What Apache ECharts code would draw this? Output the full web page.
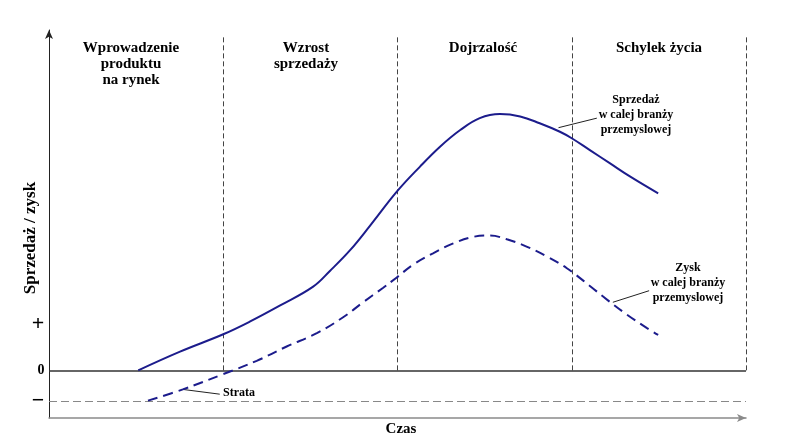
<!DOCTYPE html>
<html>
<head>
<meta charset="utf-8">
<script src="https://cdn.jsdelivr.net/npm/echarts@6/dist/echarts.min.js"></script>
<style>
html,body{margin:0;padding:0;background:#fff;}
#chart{width:786px;height:446px;}
</style>
</head>
<body>
<div id="chart"></div>
<script>
// czas: 0..100, granice faz co 25
var phaseBounds = [25, 50, 75, 100];
var phaseNames = ['Wprowadzenie\nproduktu\nna rynek', 'Wzrost\nsprzedaży', 'Dojrzalość', 'Schylek życia'];

// sprzedaż [czas, wartość]
var salesX = [12.8, 18.8, 25.0, 28.8, 33.1, 37.9, 40.3, 43.2, 46.1, 49.9, 53.2, 56.1, 59.0, 61.8, 64.7, 67.6, 70.4, 73.3, 75.0, 77.6, 80.5, 83.4, 87.4];
var salesY = [0, 5.5, 10.6, 14.3, 19.0, 24.6, 29.2, 35.3, 42.6, 52.5, 59.8, 65.7, 70.6, 74.1, 75.3, 74.6, 72.6, 70.1, 68.2, 64.7, 60.8, 56.9, 52.0];

// zysk [czas, wartość]
var profitX = [14.2, 19.2, 25.0, 29.8, 34.1, 38.5, 42.2, 45.0, 47.9, 49.9, 52.2, 55.1, 58.0, 60.8, 63.3, 65.7, 68.6, 71.5, 74.3, 77.6, 80.1, 82.9, 85.8, 87.4];
var profitY = [-8.9, -5.6, -1.1, 2.8, 7.0, 11.0, 15.6, 19.9, 24.2, 27.3, 31.0, 34.4, 37.3, 39.2, 39.6, 38.5, 36.3, 33.4, 30.0, 24.8, 20.7, 16.4, 12.4, 10.4];

var lossLevel = -9;
var plusLevel = 13.5;
var tickLabels = ['+', '0', '\u2212'];
var tickValues = [plusLevel, 0, lossLevel];

function pairs(xs, ys){
	var out = [];
	for(var i=0;i<xs.length;i++){ out.push([xs[i], ys[i]]); }
	return out;
}

var serif = '"Liberation Serif", "DejaVu Serif", serif';
var navy = '#1c1c8c';

var myChart = echarts.init(document.getElementById('chart'));

var option = {
	animation: false,
	backgroundColor: '#fff',
	grid: {left: 49, right: 40, top: 30, bottom: 28},
	xAxis: {
		type: 'value', min: 0, max: 100,
		axisLine: {onZero: false, symbol: ['none', 'arrow'], symbolSize: [6, 9], lineStyle: {color: '#8a8a8a', width: 1.5}},
		axisTick: {show: false}, axisLabel: {show: false}, splitLine: {show: false}
	},
	yAxis: {
		type: 'value', min: -14, max: 100,
		axisLine: {show: true, onZero: false, symbol: ['none', 'arrow'], symbolSize: [6, 9], lineStyle: {color: '#222', width: 1}},
		axisTick: {show: false}, axisLabel: {show: false}, splitLine: {show: false}
	},
	series: [
		{
			name: 'Sprzedaż',
			type: 'line', smooth: 0.4, symbol: 'none',
			lineStyle: {color: navy, width: 2},
			data: pairs(salesX, salesY),
			z: 5,
			markLine: {
				silent: true, symbol: 'none', label: {show: false},
				lineStyle: {color: '#444', type: [5, 3], width: 1},
				data: phaseBounds.map(function(b){
					return [{coord: [b, 0]}, {coord: [b, 98]}];
				})
			}
		},
		{
			name: 'Zysk',
			type: 'line', smooth: 0.4, symbol: 'none',
			lineStyle: {color: navy, width: 2, type: [10, 6]},
			data: pairs(profitX, profitY),
			z: 5,
			markLine: {
				silent: true, symbol: 'none', label: {show: false},
				data: [
					{yAxis: 0, lineStyle: {color: '#333', type: 'solid', width: 1.5}},
					{yAxis: lossLevel, lineStyle: {color: '#888', type: [8, 4], width: 1}}
				]
			}
		},
		// linie odnośników
		{type: 'line', symbol: 'none', lineStyle: {color: '#222', width: 1}, data: [[73.1, 71.3], [78.6, 74.1]]},
		{type: 'line', symbol: 'none', lineStyle: {color: '#222', width: 1}, data: [[80.9, 20.0], [86.1, 23.4]]},
		{type: 'line', symbol: 'none', lineStyle: {color: '#222', width: 1}, data: [[19.2, -5.6], [24.5, -7.0]]}
	]
};

var g = [];
var centers = [131, 306, 483, 659];
for(var i=0;i<phaseNames.length;i++){
	g.push({type: 'text', x: centers[i], y: 40,
		style: {text: phaseNames[i], font: 'bold 15px ' + serif, fill: '#000', align: 'center', verticalAlign: 'top', lineHeight: 16}});
}
g.push({type: 'text', x: 636, y: 92, style: {text: 'Sprzedaż\nw calej branży\nprzemyslowej', font: 'bold 12px ' + serif, fill: '#000', align: 'center', verticalAlign: 'top', lineHeight: 15}});
g.push({type: 'text', x: 688, y: 260, style: {text: 'Zysk\nw calej branży\nprzemyslowej', font: 'bold 12px ' + serif, fill: '#000', align: 'center', verticalAlign: 'top', lineHeight: 15}});
g.push({type: 'text', x: 223, y: 393, style: {text: 'Strata', font: 'bold 12px ' + serif, fill: '#000', align: 'left', verticalAlign: 'middle'}});
g.push({type: 'text', x: 401, y: 429, style: {text: 'Czas', font: 'bold 15px ' + serif, fill: '#000', align: 'center', verticalAlign: 'middle'}});
g.push({type: 'text', x: 31, y: 238, rotation: Math.PI / 2, style: {text: 'Sprzedaż / zysk', font: 'bold 17px ' + serif, fill: '#000', align: 'center', verticalAlign: 'middle'}});

myChart.setOption(option);

// etykiety osi Y (+, 0, −) umieszczone wg skali osi
var tickX = [38, 41, 38];
var tickSize = [22, 14, 22];
for(var i=0;i<tickLabels.length;i++){
	var py = myChart.convertToPixel({gridIndex: 0}, [0, tickValues[i]])[1];
	g.push({type: 'text', x: tickX[i], y: py, style: {text: tickLabels[i], font: 'bold ' + tickSize[i] + 'px ' + serif, fill: '#000', align: 'center', verticalAlign: 'middle'}});
}
myChart.setOption({graphic: g});
</script>
</body>
</html>
